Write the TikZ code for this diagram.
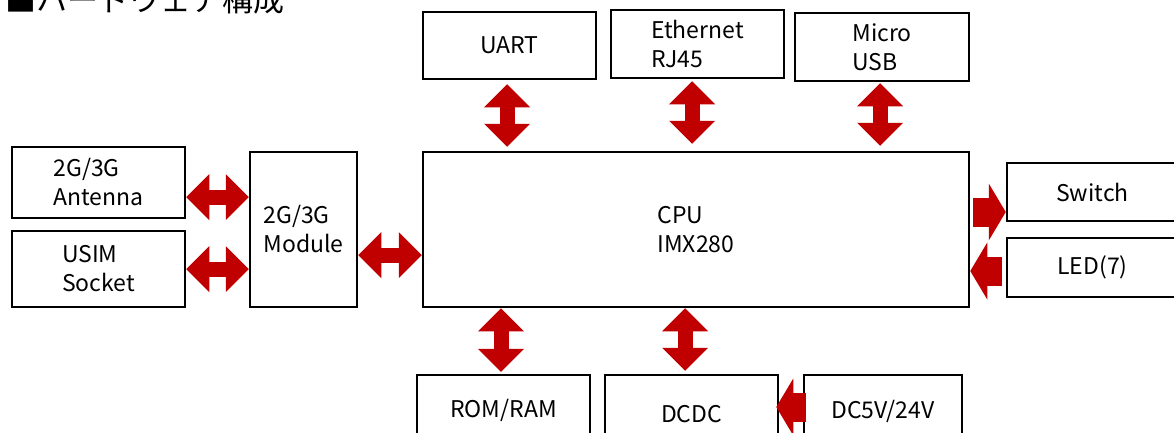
\documentclass[tikz,border=0pt]{standalone}
\usepackage{fontspec}
\setmainfont{Noto Sans CJK JP}
\usetikzlibrary{arrows.meta}

\definecolor{arrowred}{RGB}{192,0,0}

\tikzstyle{box} = [draw, line width=2.5pt, fill=white, inner sep=0pt, align=left, font=\fontsize{23}{29}\selectfont]
\tikzstyle{biarrow} = [draw=arrowred, line width=15pt, {Triangle[length=23pt, width=46pt, line width=0pt 0 0]}-{Triangle[length=23pt, width=46pt, line width=0pt 0 0]}]
\tikzstyle{onearrow} = [draw=arrowred, line width=29pt, -{Triangle[length=17pt, width=57pt, line width=0pt 0 0]}]

\begin{document}
\begin{tikzpicture}[x=1pt, y=-1pt]

	\useasboundingbox (0,0) rectangle (1174,432);

	% Title
	\node[anchor=base west, inner sep=0pt, font=\fontsize{31}{36}\selectfont] (title) at (5,11) {■ハードウェア構成};

	% Left side
	\node[box, minimum width=173pt, minimum height=71pt] (ant) at (98.5,182.5) {2G/3G\\Antenna};
	\node[box, minimum width=173pt, minimum height=76pt] (usim) at (98.5,269) {USIM\\Socket};
	\node[box, minimum width=107pt, minimum height=155pt] (mod) at (303.5,229.5) {2G/3G\\Module};

	% CPU
	\node[box, minimum width=546pt, minimum height=155pt] (cpu) at (696,229.5) {CPU\\IMX280};

	% Top
	\node[box, minimum width=173pt, minimum height=67pt] (uart) at (509.5,45.5) {UART};
	\node[box, minimum width=173pt, minimum height=68pt] (eth) at (697.5,44) {Ethernet\\RJ45};
	\node[box, minimum width=174pt, minimum height=68pt] (usb) at (882,47) {Micro\\USB};

	% Right side
	\node[box, minimum width=171pt, minimum height=58pt] (sw) at (1092.5,192) {Switch};
	\node[box, minimum width=171pt, minimum height=59pt] (led) at (1092.5,267.5) {LED(7)};

	% Bottom
	\node[box, minimum width=173pt, minimum height=70pt] (rom) at (503.5,410) {ROM/RAM};
	\node[box, minimum width=173pt, minimum height=78pt] (dcdc) at (691.5,414) {DCDC};
	\node[box, minimum width=158pt, minimum height=72pt] (dc) at (883,411) {DC5V/24V};

	% Arrows
	\path[biarrow] ([yshift=-14.5pt]ant.east) -- ([yshift=-14.5pt]ant.east -| mod.west);
	\path[biarrow] (usim.east) -- (usim.east -| mod.west);
	\path[biarrow] ([yshift=-25.5pt]mod.east) -- ([yshift=-25.5pt]cpu.west);

	\path[biarrow, shorten <=4pt, shorten >=4pt] ([xshift=-2.5pt]uart.south) -- ([xshift=-2.5pt]uart.south |- cpu.north);
	\path[biarrow, shorten <=2pt, shorten >=7pt] ([xshift=-5.5pt]eth.south) -- ([xshift=-5.5pt]eth.south |- cpu.north);
	\path[biarrow, shorten <=1pt, shorten >=5pt] ([xshift=-2pt]usb.south) -- ([xshift=-2pt]usb.south |- cpu.north);

	\path[biarrow, shorten >=2pt] ([xshift=-2.5pt]rom.north |- cpu.south) -- ([xshift=-2.5pt]rom.north);
	\path[biarrow, shorten >=3pt] ([xshift=-6.5pt]dcdc.north |- cpu.south) -- ([xshift=-6.5pt]dcdc.north);

	\path[onearrow, shorten <=3pt] ([yshift=-20pt]sw.west -| cpu.east) -- ([yshift=-20pt]sw.west);
	\path[onearrow, shorten <=4pt] ([yshift=-3.5pt]led.west) -- ([yshift=-3.5pt]led.west -| cpu.east);
	\path[onearrow, shorten <=-3pt, shorten >=-3pt] ([yshift=4pt]dc.west) -- ([yshift=4pt]dc.west -| dcdc.east);

\end{tikzpicture}
\end{document}
